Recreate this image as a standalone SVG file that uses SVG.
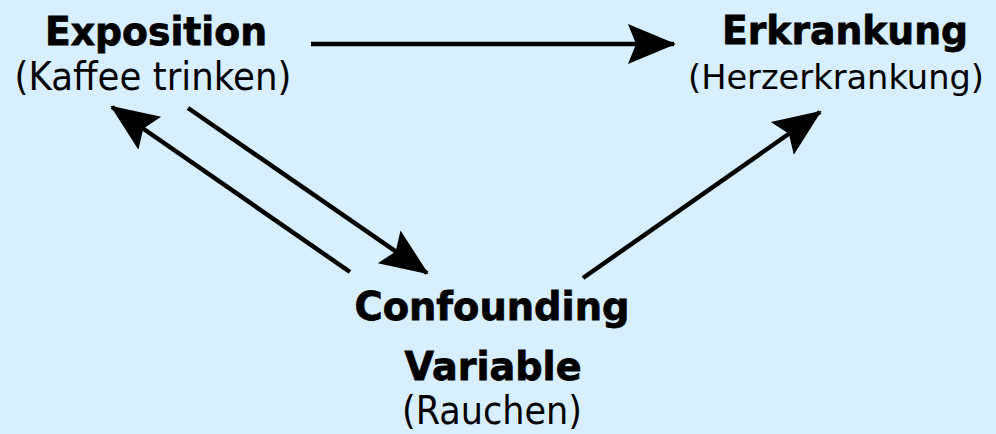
<svg xmlns="http://www.w3.org/2000/svg" width="996" height="434" viewBox="0 0 996 434">
<style>
.b{font-family:"DejaVu Sans",Verdana,sans-serif;font-weight:bold;font-size:39px;fill:#000;stroke:#000;stroke-width:0.8;text-anchor:middle}
.r{font-family:"DejaVu Sans",Verdana,sans-serif;font-size:39px;fill:#000;text-anchor:middle}
.c{stroke:#000;stroke-width:4.5;fill:none}
</style>
<defs>
<marker id="ah" viewBox="0 0 48 44" refX="46" refY="22" markerWidth="48" markerHeight="44" markerUnits="userSpaceOnUse" orient="auto">
<path d="M0,2 L48,22 L0,42 L8,22 Z" fill="#000"/>
</marker>
</defs>
<rect width="996" height="434" fill="#D7EFFF"/>
<g id="exposition">
<text class="b" x="156" y="45" textLength="222" lengthAdjust="spacingAndGlyphs">Exposition</text>
<text class="r" x="153" y="90" textLength="277" lengthAdjust="spacingAndGlyphs">(Kaffee trinken)</text>
</g>
<g id="erkrankung">
<text class="b" x="845" y="44" textLength="246" lengthAdjust="spacingAndGlyphs">Erkrankung</text>
<text class="r" x="836" y="89" style="font-size:34px" textLength="296" lengthAdjust="spacingAndGlyphs">(Herzerkrankung)</text>
</g>
<g id="confounding">
<text class="b" x="492" y="320" textLength="275" lengthAdjust="spacingAndGlyphs">Confounding</text>
<text class="b" x="493" y="380" textLength="177" lengthAdjust="spacingAndGlyphs">Variable</text>
<text class="r" x="492" y="424" textLength="180" lengthAdjust="spacingAndGlyphs">(Rauchen)</text>
</g>
<g id="connectors">
<line class="c" x1="311" y1="44" x2="674" y2="44" marker-end="url(#ah)"/>
<line class="c" x1="188" y1="108" x2="427" y2="273" marker-end="url(#ah)"/>
<line class="c" x1="350" y1="272" x2="112" y2="107" marker-end="url(#ah)"/>
<line class="c" x1="583" y1="278" x2="820" y2="112" marker-end="url(#ah)"/>
</g>
</svg>
